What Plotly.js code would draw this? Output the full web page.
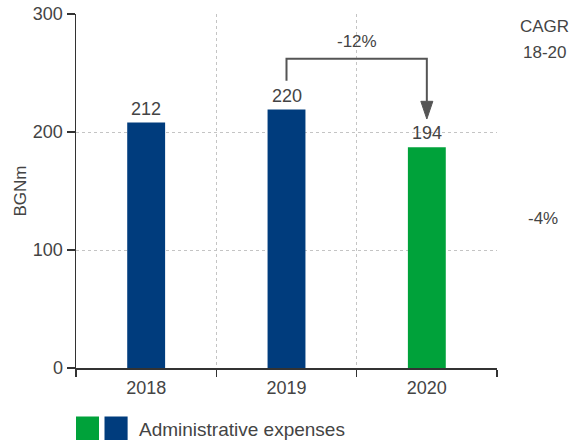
<!DOCTYPE html>
<html>
<head>
<meta charset="utf-8">
<script src="https://cdn.plot.ly/plotly-3.0.1.min.js"></script>
<style>html,body{margin:0;padding:0;background:#fff;}#chart{width:572px;height:440px;}</style>
</head>
<body>
<div id="chart"></div>
<script>
// Data
const years = ['2018', '2019', '2020'];
const barHeights = [208, 219, 187];          // bar tops as drawn
const valueLabels = ['212', '220', '194'];   // printed values
const barColors = ['#003c7d', '#003c7d', '#00a23a'];
const changeLabel = '-12%';
const cagrTitle = ['CAGR', '18-20'];
const cagrValue = '-4%';
const legendText = 'Administrative expenses';

const txt = '#444444';
const font = '"Liberation Sans", Arial, sans-serif';
const n = years.length;
const px = i => (i + 0.5) / n;   // paper x of category centre

const trace = {
  type: 'bar',
  x: years,
  y: barHeights,
  marker: {color: barColors},
  width: 0.27,
  hoverinfo: 'skip'
};

const annotations = years.map((yr, i) => ({
  x: px(i), y: barHeights[i], xref: 'paper', yref: 'y', xanchor: 'center',
  text: valueLabels[i], showarrow: false,
  yanchor: 'bottom', yshift: 2,
  font: {family: font, size: 18, color: txt}
}));

// bracket heights (data units)
const bracketTop = 262, bracketStart = 243.5, arrowTip = 211, arrowBase = 226;
annotations.push({
  x: (px(1) + px(2)) / 2, xref: 'paper', xanchor: 'center', y: bracketTop, yref: 'y',
  text: changeLabel, showarrow: false, yanchor: 'bottom', yshift: 6,
  font: {family: font, size: 17, color: txt}
});
annotations.push({
  x: 1.0, xref: 'paper', xanchor: 'center', xshift: 47, y: 1, yref: 'paper', yanchor: 'middle', yshift: -12,
  text: cagrTitle[0], showarrow: false, font: {family: font, size: 17, color: txt}
});
annotations.push({
  x: 1.0, xref: 'paper', xanchor: 'center', xshift: 47, y: 1, yref: 'paper', yanchor: 'middle', yshift: -38,
  text: cagrTitle[1], showarrow: false, font: {family: font, size: 17, color: txt}
});
annotations.push({
  x: 1.0, xref: 'paper', xanchor: 'center', xshift: 46, y: 128, yref: 'y', yanchor: 'middle', yshift: -2,
  text: cagrValue, showarrow: false, font: {family: font, size: 17, color: txt}
});
annotations.push({
  x: 0.146, xref: 'paper', xanchor: 'left', y: -0.173, yref: 'paper', yanchor: 'middle',
  text: legendText, showarrow: false, font: {family: font, size: 19, color: txt}
});

const hw = 6 / 421;
const shapes = [
  {type: 'path', xref: 'paper', yref: 'y',
   path: `M${px(1)},${bracketStart} L${px(1)},${bracketTop} L${px(2)},${bracketTop} L${px(2)},${arrowBase}`,
   line: {color: '#555', width: 2}},
  {type: 'path', xref: 'paper', yref: 'y',
   path: `M${px(2) - hw},${arrowBase} L${px(2) + hw},${arrowBase} L${px(2)},${arrowTip} Z`,
   fillcolor: '#555', line: {color: '#555', width: 1}},
  {type: 'rect', xref: 'paper', yref: 'paper', x0: 0, x1: 0.0546, y0: -0.137, y1: -0.205,
   fillcolor: barColors[2], line: {width: 0}},
  {type: 'rect', xref: 'paper', yref: 'paper', x0: 0.0677, x1: 0.1226, y0: -0.137, y1: -0.205,
   fillcolor: barColors[0], line: {width: 0}}
];

const layout = {
  width: 572, height: 440,
  margin: {l: 76, r: 75, t: 14, b: 72},
  paper_bgcolor: '#fff', plot_bgcolor: '#fff',
  showlegend: false,
  font: {family: font, color: txt},
  xaxis: {
    type: 'category', range: [-0.5, 2.5],
    tickson: 'boundaries', ticks: 'outside', ticklen: 7, tickwidth: 1.5, tickcolor: '#333',
    showline: true, linecolor: '#333', linewidth: 1.5,
    showgrid: true, gridcolor: '#c4c4c4', griddash: 'dot', gridwidth: 1,
    tickfont: {family: font, size: 18, color: txt},
    ticklabelstandoff: 3,
    fixedrange: true
  },
  yaxis: {
    range: [0, 300], tickvals: [0, 100, 200, 300],
    ticks: 'outside', ticklen: 8, tickwidth: 1.5, tickcolor: '#333',
    showline: true, linecolor: '#333', linewidth: 1.5,
    showgrid: true, gridcolor: '#c4c4c4', griddash: 'dot', gridwidth: 1,
    zeroline: false,
    tickfont: {family: font, size: 18, color: txt},
    title: {text: 'BGNm', font: {family: font, size: 17, color: txt}, standoff: 2},
    fixedrange: true
  },
  annotations: annotations,
  shapes: shapes
};

Plotly.newPlot('chart', [trace], layout, {displayModeBar: false, staticPlot: true});
</script>
</body>
</html>
